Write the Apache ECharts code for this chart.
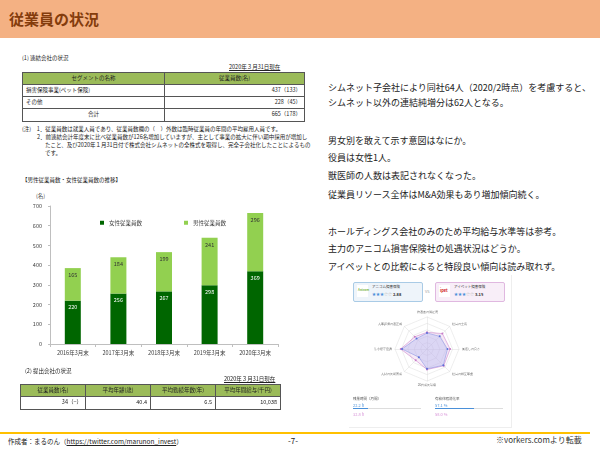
<!DOCTYPE html>
<html><head><meta charset="utf-8">
<script src="https://cdn.jsdelivr.net/npm/echarts@6/dist/echarts.min.js"></script>
<style>
html,body{margin:0;padding:0;background:#fff;}
body{width:600px;height:450px;position:relative;overflow:hidden;font-family:"Noto Sans CJK JP","Noto Sans",sans-serif;color:#222;}
.t{position:absolute;white-space:nowrap;line-height:1;}
table{border-collapse:collapse;position:absolute;font-size:5.5px;line-height:1;}
td{border:0.8px solid #555;padding:0 3px;}
.hd td{background:#9BBB59;text-align:center;}
.r{text-align:right;}
</style></head>
<body>
<div style="position:absolute;left:0;top:0;width:600px;height:38px;background:#F4B183;"></div>
<div class="t" style="left:9px;top:11px;font-size:15px;font-weight:bold;color:#843C0C;">従業員の状況</div>

<div class="t" style="left:22px;top:56px;font-size:5.5px;">(1) 連結会社の状況</div>
<div class="t" style="left:229px;top:65px;font-size:5.5px;text-decoration:underline;">2020年３月31日現在</div>
<table style="left:22px;top:72px;width:283px;">
<tr class="hd" style="height:12px;"><td style="width:135px;">セグメントの名称</td><td>従業員数(名)</td></tr>
<tr style="height:12px;"><td>損害保険事業(ペット保険)</td><td class="r">437（133）</td></tr>
<tr style="height:12px;"><td>その他</td><td class="r">228（45）</td></tr>
<tr style="height:13px;"><td style="text-align:center;">合計</td><td class="r">665（178）</td></tr>
</table>
<div class="t" style="left:22px;top:127px;font-size:5.5px;">(注)　1．従業員数は就業人員であり、従業員数欄の（　）外数は臨時従業員の年間の平均雇用人員です。</div>
<div class="t" style="left:37px;top:135px;font-size:5.5px;">2．前連結会計年度末に比べ従業員数が126名増加していますが、主として事業の拡大に伴い期中採用が増加し</div>
<div class="t" style="left:45px;top:143px;font-size:5.5px;">たこと、及び2020年１月31日付で株式会社シムネットの全株式を取得し、完全子会社化したことによるもの</div>
<div class="t" style="left:45px;top:151px;font-size:5.5px;">です。</div>

<div class="t" style="left:22px;top:178px;font-size:5.5px;">【男性従業員数・女性従業員数の推移】</div>
<div class="t" style="left:36px;top:194px;font-size:5.5px;color:#404040;">(名)</div>
<div id="bar" style="position:absolute;left:0;top:190px;width:300px;height:180px;"></div>

<div class="t" style="left:25px;top:369px;font-size:5.5px;">(2) 提出会社の状況</div>
<div class="t" style="left:224px;top:377px;font-size:5.5px;text-decoration:underline;">2020年３月31日現在</div>
<table style="left:20px;top:384px;width:261px;">
<tr class="hd" style="height:12px;"><td style="width:25%;">従業員数(名)</td><td style="width:25%;">平均年齢(歳)</td><td style="width:25%;">平均勤続年数(年)</td><td>平均年間給与(千円)</td></tr>
<tr style="height:13px;"><td class="r">34（−）</td><td class="r">40.4</td><td class="r">6.5</td><td class="r">10,038</td></tr>
</table>

<div style="position:absolute;left:0;top:432px;width:590px;height:1.5px;background:#FFC000;"></div>
<div class="t" style="left:8px;top:438px;font-size:6.5px;">作成者：まるのん（<span style="text-decoration:underline;">https://twitter.com/marunon_invest</span>）</div>
<div class="t" style="left:288px;top:437px;font-size:8px;">-7-</div>
<div class="t" style="left:496px;top:436px;font-size:8px;color:#333;">※vorkers.comより転載</div>

<div id="notes"></div>

<div style="position:absolute;left:349px;top:275px;width:162px;height:152px;border-right:1px solid #eee;border-bottom:1px solid #eee;"></div>
<div style="position:absolute;left:353px;top:282px;width:68px;height:18px;border:1px solid #A9CBE6;background:#EEF4FA;border-radius:2px;"></div>
<div style="position:absolute;left:357px;top:285px;width:11px;height:12px;background:#fff;"></div>
<div class="t" style="left:358px;top:289px;font-size:3px;color:#7AB648;font-weight:bold;">Anicom</div>
<div class="t" style="left:372px;top:285px;font-size:3.5px;color:#333;">アニコム損害保険</div>
<div class="t" style="left:372px;top:292px;font-size:4px;color:#4A90D9;">★★★<span style="color:#bbb">☆☆</span> <span style="color:#333;font-weight:bold;">2.88</span></div>
<div class="t" style="left:425px;top:289px;font-size:4px;color:#999;">VS</div>
<div style="position:absolute;left:435px;top:282px;width:68px;height:18px;border:1px solid #E0B8E0;background:#F8EEF8;border-radius:2px;"></div>
<div style="position:absolute;left:439px;top:285px;width:11px;height:12px;background:#fff;"></div>
<div class="t" style="left:440px;top:288px;font-size:4px;color:#D02020;font-weight:bold;">ipet</div>
<div class="t" style="left:454px;top:285px;font-size:3.5px;color:#333;">アイペット損害保険</div>
<div class="t" style="left:454px;top:292px;font-size:4px;color:#4A90D9;">★★★<span style="color:#bbb">☆☆</span> <span style="color:#333;font-weight:bold;">3.15</span></div>
<div id="radar" style="position:absolute;left:372px;top:305px;width:110px;height:88px;"></div>
<div class="t" style="left:353px;top:397px;font-size:3.5px;color:#555;">残業時間（月間）</div>
<div class="t" style="left:353px;top:403px;font-size:4px;color:#4A90D9;">22.2 h</div>
<div style="position:absolute;left:353px;top:408px;width:68px;height:1px;background:#ddd;"></div>
<div style="position:absolute;left:353px;top:408px;width:15px;height:1px;background:#4A90D9;"></div>
<div class="t" style="left:353px;top:412px;font-size:4px;color:#D68FD6;">32.8 h</div>
<div class="t" style="left:435px;top:397px;font-size:3.5px;color:#555;">有給休暇消化率</div>
<div class="t" style="left:435px;top:403px;font-size:4px;color:#4A90D9;">57.1 %</div>
<div style="position:absolute;left:435px;top:408px;width:68px;height:1px;background:#ddd;"></div>
<div style="position:absolute;left:435px;top:408px;width:39px;height:1px;background:#4A90D9;"></div>
<div class="t" style="left:435px;top:412px;font-size:4px;color:#D68FD6;">58.0 %</div>

<script>
// ---- data ----
const categories = ['2016年3月末', '2017年3月末', '2018年3月末', '2019年3月末', '2020年3月末'];
const femaleCounts = [220, 256, 267, 298, 369];
const maleCounts = [165, 184, 199, 241, 296];
const seriesNames = ['女性従業員数', '男性従業員数'];
// radar axes listed counter-clockwise from the top (ECharts drawing order)
const radarAxes = ['待遇面の満足度', '人事評価の適正感', '法令順守意識', '人材の長期育成', '20代成長環境', '社員の相互尊重', '風通しの良さ', '社員の士気'];
const anicomScores = [2.5, 2.3, 3.9, 1.8, 3.1, 3.6, 3.2, 2.8];
const ipetScores = [2.6, 2.7, 4.1, 2.5, 3.2, 3.7, 3.6, 3.4];
const commentLines = [
  'シムネット子会社により同社64人（2020/2時点）を考慮すると、',
  'シムネット以外の連結純増分は62人となる。',
  '',
  '男女別を敢えて示す意図はなにか。',
  '役員は女性1人。',
  '獣医師の人数は表記されなくなった。',
  '従業員リソース全体はM&A効果もあり増加傾向続く。',
  '',
  'ホールディングス会社のみのため平均給与水準等は参考。',
  '主力のアニコム損害保険社の処遇状況はどうか。',
  'アイペットとの比較によると特段良い傾向は読み取れず。'
];

// comment text
const notes = document.getElementById('notes');
const lineTops = [83, 98, 0, 136, 153, 171, 190, 0, 227, 244, 262];
commentLines.forEach((s, i) => {
  if (!s) return;
  const d = document.createElement('div');
  d.className = 't';
  d.style.cssText = 'left:328px;top:' + lineTops[i] + 'px;font-size:9px;color:#222;';
  d.textContent = s;
  notes.appendChild(d);
});

const bar = echarts.init(document.getElementById('bar'), null, {renderer: 'canvas'});
bar.setOption({
  animation: false,
  textStyle: {fontFamily: '"Noto Sans CJK JP", sans-serif'},
  legend: {
    data: seriesNames, left: 95, top: 25, itemWidth: 4, itemHeight: 4, itemGap: 42, icon: 'rect',
    textStyle: {fontSize: 5.5, color: '#404040'}
  },
  grid: {left: 50, right: 22, top: 16, bottom: 26},
  xAxis: {
    type: 'category', data: categories,
    axisLine: {lineStyle: {color: '#BFBFBF'}},
    axisTick: {show: true, length: 3, lineStyle: {color: '#BFBFBF'}},
    axisLabel: {fontSize: 5.5, color: '#404040', margin: 6}
  },
  yAxis: {
    type: 'value', min: 0, max: 700, interval: 100,
    axisLine: {show: true, lineStyle: {color: '#BFBFBF'}},
    axisTick: {show: true, length: 2, lineStyle: {color: '#BFBFBF'}},
    splitLine: {show: false},
    axisLabel: {fontSize: 5.5, color: '#404040', margin: 8}
  },
  series: [
    {name: seriesNames[0], type: 'bar', stack: 's', data: femaleCounts, barWidth: 16,
     itemStyle: {color: '#006600'},
     label: {show: true, position: 'insideTop', distance: 4, fontSize: 5.5, color: '#fff'}},
    {name: seriesNames[1], type: 'bar', stack: 's', data: maleCounts, barWidth: 16,
     itemStyle: {color: '#92D050'},
     label: {show: true, position: 'insideTop', distance: 4, fontSize: 5.5, color: '#333'}}
  ]
});

const radar = echarts.init(document.getElementById('radar'));
radar.setOption({
  animation: false,
  radar: {
    center: ['50%', '50%'], radius: 32, startAngle: 90, splitNumber: 5, shape: 'polygon',
    indicator: radarAxes.map(n => ({name: n, max: 5})),
    axisName: {fontSize: 3.2, color: '#666'}, nameGap: 3,
    splitLine: {lineStyle: {color: '#ddd', width: 0.5}},
    splitArea: {show: false},
    axisLine: {lineStyle: {color: '#ddd', width: 0.5}}
  },
  series: [{
    type: 'radar', symbolSize: 2,
    data: [
      {value: ipetScores, name: 'アイペット', itemStyle: {color: '#C77BC7'}, lineStyle: {width: 0.6, color: '#C77BC7'}, areaStyle: {color: 'rgba(230,190,230,0.45)'}},
      {value: anicomScores, name: 'アニコム', itemStyle: {color: '#5B6FD8'}, lineStyle: {width: 0.6, color: '#8B96E0'}, areaStyle: {color: 'rgba(160,170,240,0.45)'}}
    ]
  }]
});
</script>
</body></html>
